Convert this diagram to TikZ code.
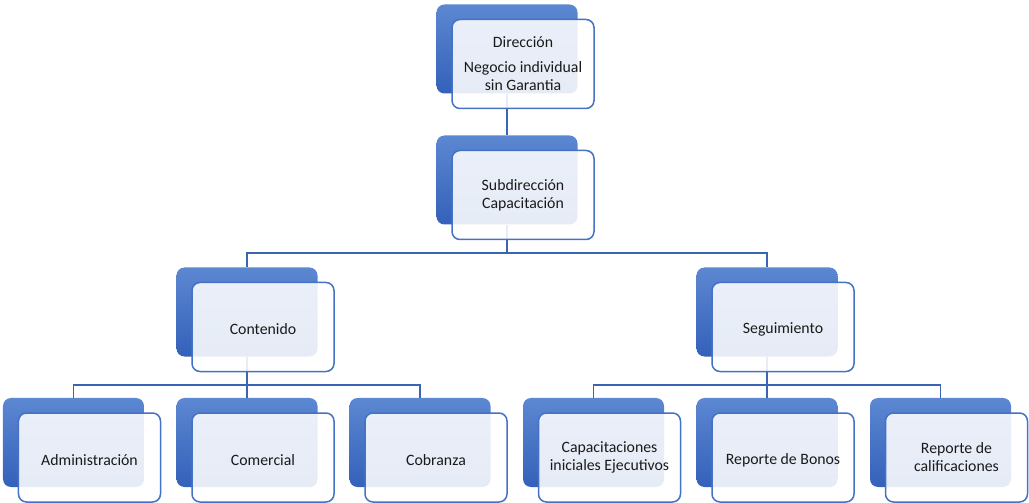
\documentclass[tikz,border=0pt]{standalone}
\usepackage{fontspec}
\setmainfont{Carlito}
\usepackage{tikz}
\usetikzlibrary{positioning,calc,backgrounds}
\definecolor{orgblue}{HTML}{4472C4}
\definecolor{orgtop}{HTML}{5C87D1}
\definecolor{orgbottom}{HTML}{3461BA}
\definecolor{orgline}{HTML}{3A65B5}
\definecolor{orgtext}{HTML}{1A1A1A}

\begin{document}
\begin{tikzpicture}[x=1bp,y=-1bp,
  back/.style={rounded corners=8bp,minimum width=141bp,minimum height=89bp,inner sep=0pt,top color=orgtop,bottom color=orgbottom},
  front/.style={draw=orgblue,line width=1.5bp,fill=white,fill opacity=0.88,text opacity=1,text=orgtext,rounded corners=8bp,minimum width=142bp,minimum height=89bp,inner sep=0pt,align=center,font=\fontsize{15.8bp}{18bp}\selectfont,execute at begin node={\rule{0pt}{16bp}}},
  conn/.style={orgline,line width=1.6bp}
]
\useasboundingbox (0,0) rectangle (1029,503);
% level 0 and 1
\node[back] (dirB) at (507,49) {};
\node[front] (dir) at ([shift={(16,15)}]dirB.center) {Dirección\\[7bp]Negocio individual\\sin Garantia};
\node[back] (subB) at (507,180) {};
\node[front] (sub) at ([shift={(16,15)}]subB.center) {Subdirección\\Capacitación};
% level 2
\node[back] (conB) at (247,312) {};
\node[front] (con) at ([shift={(16,15)}]conB.center) {Contenido};
\node[back] (segB) at (767,312) {};
\node[front] (seg) at ([shift={(16,15)}]segB.center) {Seguimiento};
% level 3
\node[back] (admB) at (73.5,442.5) {};
\node[front] (adm) at ([shift={(16,15)}]admB.center) {Administración};
\node[back] (comB) at (247,442.5) {};
\node[front] (com) at ([shift={(16,15)}]comB.center) {Comercial};
\node[back] (cobB) at (420,442.5) {};
\node[front] (cob) at ([shift={(16,15)}]cobB.center) {Cobranza};
\node[back] (capB) at (593.5,442.5) {};
\node[front] (cap) at ([shift={(16,15)}]capB.center) {Capacitaciones\\iniciales Ejecutivos};
\node[back] (bonB) at (767,442.5) {};
\node[front] (bon) at ([shift={(16,15)}]bonB.center) {Reporte de Bonos};
\node[back] (calB) at (940.5,442.5) {};
\node[front] (cal) at ([shift={(16,15)}]calB.center) {Reporte de\\calificaciones};
% connectors behind the boxes
\begin{scope}[on background layer]
\draw[conn] (dirB.south) -- (subB.north);
\draw[conn] (subB.south) -- ++(0,28.5) -| (conB.north);
\draw[conn] (subB.south) -- ++(0,28.5) -| (segB.north);
\draw[conn] (conB.south) -- ++(0,28) -| (admB.north);
\draw[conn] (conB.south) -- ++(0,28) -| (comB.north);
\draw[conn] (conB.south) -- ++(0,28) -| (cobB.north);
\draw[conn] (segB.south) -- ++(0,28) -| (capB.north);
\draw[conn] (segB.south) -- ++(0,28) -| (bonB.north);
\draw[conn] (segB.south) -- ++(0,28) -| (calB.north);
\end{scope}
\end{tikzpicture}
\end{document}
